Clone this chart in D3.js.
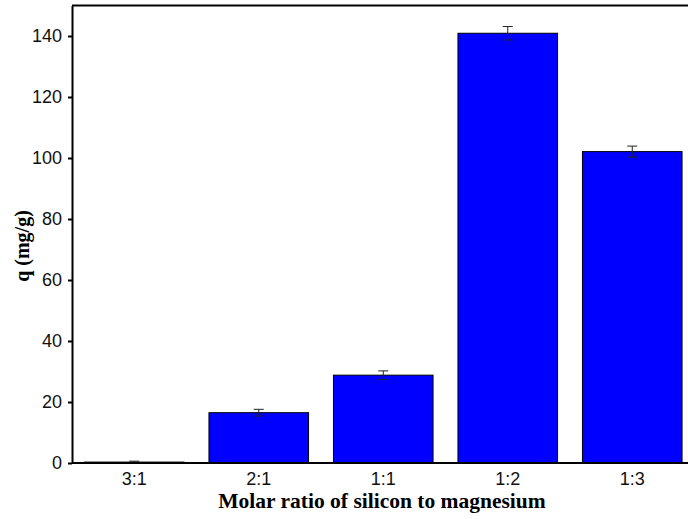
<!DOCTYPE html>
<html>
<head>
<meta charset="utf-8">
<script src="https://cdn.jsdelivr.net/npm/d3@7"></script>
<style>
  body { margin: 0; background: #fff; }
  svg { display: block; }
</style>
</head>
<body>
<div id="container"><svg></svg></div>
<script>
let width = 688;
let height = 519;

// data
let categories = ['3:1', '2:1', '1:1', '1:2', '1:3'];
let values = [0.3, 16.5, 28.8, 140.9, 102.1];
let errors = [0.3, 1.1, 1.4, 2.2, 1.8];
let yTicks = [0, 20, 40, 60, 80, 100, 120, 140];

let margin = {top: 5.5, right: -6.5, bottom: 56, left: 72};

function draw_graph() {
    let svg = d3.select('#container').select('svg')
        .attr('width', width)
        .attr('height', height);

    let x = d3.scaleBand()
        .domain(categories)
        .range([margin.left, width - margin.right])
        .paddingInner(0.2)
        .paddingOuter(0.1);

    let y = d3.scaleLinear()
        .domain([0, 150])
        .range([height - margin.bottom, margin.top]);

    let data = categories.map((c, i) => ({cat: c, v: values[i], e: errors[i]}));

    // bars
    svg.append('g')
        .selectAll('rect')
        .data(data)
        .join('rect')
        .attr('x', d => x(d.cat))
        .attr('y', d => y(d.v))
        .attr('width', x.bandwidth())
        .attr('height', d => y(0) - y(d.v))
        .attr('fill', '#0000ff')
        .attr('stroke', '#000')
        .attr('stroke-width', 1);

    // error bars
    let err = svg.append('g')
        .attr('stroke', '#222')
        .attr('stroke-width', 1);
    err.selectAll('line.v')
        .data(data)
        .join('line')
        .attr('class', 'v')
        .attr('x1', d => x(d.cat) + x.bandwidth() / 2)
        .attr('x2', d => x(d.cat) + x.bandwidth() / 2)
        .attr('y1', d => y(d.v - d.e))
        .attr('y2', d => y(d.v + d.e));
    err.selectAll('line.cap')
        .data(data.flatMap(d => [{d: d, s: 1}, {d: d, s: -1}]))
        .join('line')
        .attr('class', 'cap')
        .attr('x1', f => x(f.d.cat) + x.bandwidth() / 2 - 5)
        .attr('x2', f => x(f.d.cat) + x.bandwidth() / 2 + 5)
        .attr('y1', f => y(f.d.v + f.s * f.d.e))
        .attr('y2', f => y(f.d.v + f.s * f.d.e));

    // y axis
    let yAxis = svg.append('g')
        .attr('transform', `translate(${margin.left},0)`)
        .call(d3.axisLeft(y).tickValues(yTicks).tickSize(4).tickPadding(6).tickSizeOuter(0));
    yAxis.select('.domain').attr('stroke-width', 2);
    yAxis.selectAll('.tick line').attr('stroke-width', 2);
    yAxis.selectAll('text')
        .attr('font-family', 'Liberation Sans, Arial, sans-serif')
        .attr('font-size', 18)
        .attr('fill', '#111');

    // x axis
    let xAxis = svg.append('g')
        .attr('transform', `translate(0,${y(0)})`)
        .call(d3.axisBottom(x).tickSize(0).tickPadding(9).tickSizeOuter(0));
    xAxis.select('.domain').attr('stroke-width', 2).attr('d', `M${margin.left},0H${width}`);
    xAxis.selectAll('text')
        .attr('font-family', 'Liberation Sans, Arial, sans-serif')
        .attr('font-size', 18)
        .attr('fill', '#111');

    // top frame
    svg.append('line')
        .attr('x1', margin.left).attr('x2', width)
        .attr('y1', margin.top).attr('y2', margin.top)
        .attr('stroke', '#000').attr('stroke-width', 2);

    // axis titles
    svg.append('text')
        .attr('x', 382)
        .attr('y', 508)
        .attr('text-anchor', 'middle')
        .attr('font-family', 'Liberation Serif, Times New Roman, serif')
        .attr('font-weight', 'bold')
        .attr('font-size', 21.5)
        .text('Molar ratio of silicon to magnesium');

    svg.append('text')
        .attr('transform', 'translate(29,246) rotate(-90)')
        .attr('text-anchor', 'middle')
        .attr('font-family', 'Liberation Serif, Times New Roman, serif')
        .attr('font-weight', 'bold')
        .attr('font-size', 20)
        .text('q (mg/g)');
}

draw_graph();
</script>
</body>
</html>
